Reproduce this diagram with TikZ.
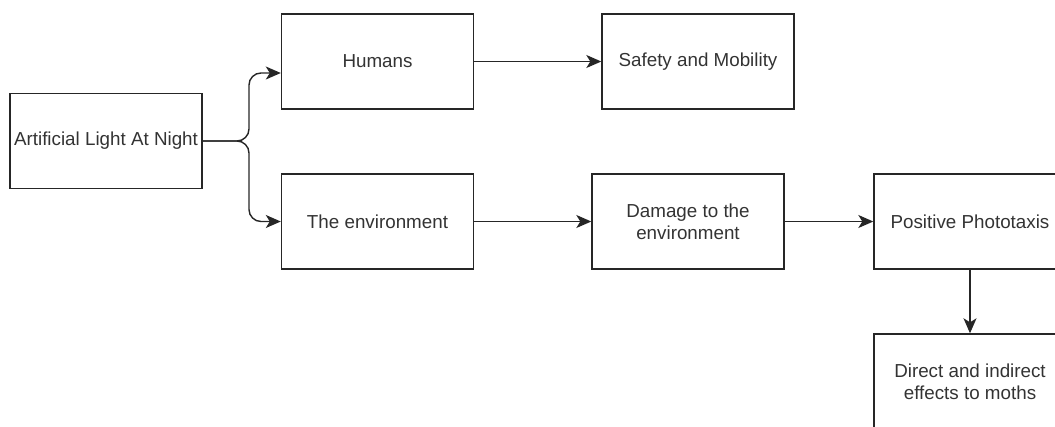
\documentclass[tikz,border=0pt]{standalone}
\usepackage{fontspec}
\setmainfont{Liberation Sans}
\usetikzlibrary{arrows.meta,calc}
\begin{document}
\begin{tikzpicture}[x=1pt,y=-1pt,
  box/.style={draw=black!85,line width=1.4pt,minimum width=192pt,minimum height=95pt,inner sep=2pt,
    align=center,font=\fontsize{18.8}{22}\selectfont,text=black!80},
  arr/.style={draw=black!85,line width=1.4pt,-{Stealth[length=15pt,width=13pt,inset=4pt]}}]
\useasboundingbox (0,0) rectangle (1055,426);
\clip (0,0) rectangle (1055,426);
\node[box] (alan) at (106,141) {Artificial Light At Night};
\node[box] (humans) at (377.5,61.5) {Humans};
\node[box] (safety) at (698,61.5) {Safety and Mobility};
\node[box] (env) at (377.5,221.5) {The environment};
\node[box] (damage) at (688,221.5) {Damage to the\\environment};
\node[box] (pos) at (970,221.5) {Positive Phototaxis};
\node[box] (direct) at (970,381.5) {Direct and indirect\\effects to moths};
\coordinate (hin) at ([yshift=-11.5pt]humans.west);
\draw[arr,rounded corners=12pt] (alan.east) -- (249,141) -- (249,0 |- hin) -- (hin);
\draw[arr,rounded corners=12pt] (alan.east) -- (249,141) -- (249,0 |- env.west) -- (env.west);
\draw[arr] (humans.east) -- (safety.west);
\draw[arr] (env.east) -- (damage.west);
\draw[arr] (damage.east) -- (pos.west);
\draw[arr] (pos.south) -- (direct.north);
\end{tikzpicture}
\end{document}
